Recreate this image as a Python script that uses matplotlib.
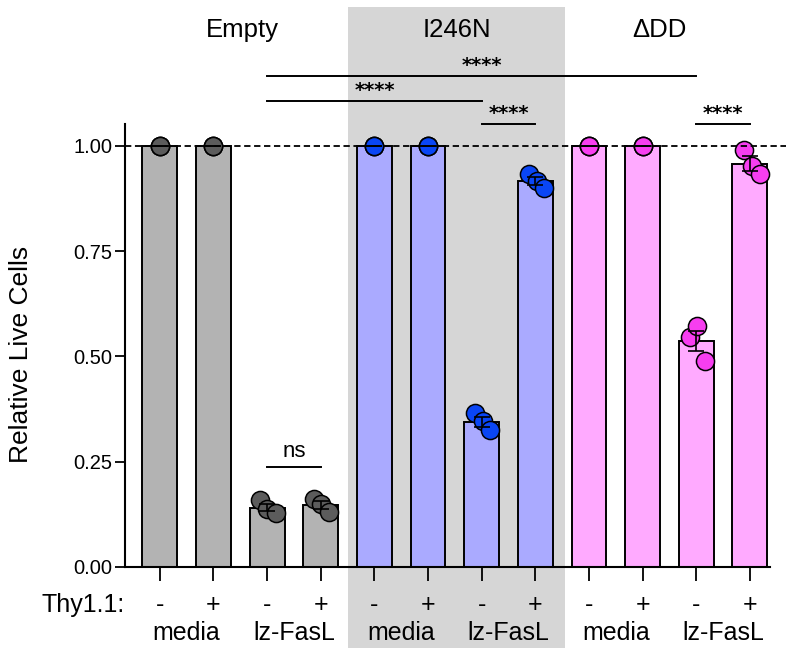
import matplotlib
matplotlib.use("Agg")
import matplotlib.pyplot as plt
import matplotlib.patches as mpatches
import matplotlib.transforms as mtransforms
import numpy as np

plt.rcParams['font.family'] = ['Liberation Sans', 'DejaVu Sans']

# replicate values (relative live cells) for each of the 12 bars
empty_reps = [[1.0, 1.0, 1.0], [1.0, 1.0, 1.0],
              [0.158, 0.137, 0.128], [0.162, 0.150, 0.130]]
i246n_reps = [[1.0, 1.0, 1.0], [1.0, 1.0, 1.0],
              [0.365, 0.346, 0.324], [0.932, 0.917, 0.899]]
ddd_reps = [[1.0, 1.0, 1.0], [1.0, 1.0, 1.0],
            [0.547, 0.573, 0.490], [0.990, 0.951, 0.932]]

groups = ['Empty', 'I246N', '\u0394DD']
thy_labels = ['-', '+'] * 6
treatments = ['media', 'lz-FasL'] * 3

bar_colors = ['#b3b3b3', '#aaaaff', '#ffaaff']
dot_colors = ['#5c5c5c', '#0a46f5', '#f73ef0']

# horizontal spread of the replicate dots inside each bar
jitter = [[0, 0, 0], [0, 0, 0], [-0.13, 0.0, 0.16], [-0.13, 0.0, 0.15],
          [0, 0, 0], [0, 0, 0], [-0.12, 0.02, 0.16], [-0.11, 0.03, 0.17],
          [0, 0, 0], [0, 0, 0], [-0.12, 0.02, 0.17], [-0.11, 0.03, 0.18]]

# significance comparisons: (bar a, bar b, height, label)
comparisons = [(2, 10, 1.166, '****'),
               (2, 6, 1.107, '****'),
               (6, 7, 1.052, '****'),
               (10, 11, 1.052, '****'),
               (2, 3, 0.238, 'ns')]

reps = empty_reps + i246n_reps + ddd_reps
x = np.arange(len(reps))

fig = plt.figure(figsize=(7.86, 6.48), dpi=100)
ax = fig.add_axes([0.159, 0.125, 0.821, 0.684])
ax.set_facecolor('none')

# grey band behind the I246N group, running the full height of the figure
band = mpatches.Rectangle((3.5, 0), 4.05, 0.989, facecolor='#d6d6d6', edgecolor='none',
                          transform=mtransforms.blended_transform_factory(ax.transData, fig.transFigure),
                          clip_on=False, zorder=0)
ax.add_patch(band)

for i, vals in enumerate(reps):
    g = i // 4
    vals = np.array(vals)
    mean = vals.mean()
    sem = vals.std(ddof=1) / np.sqrt(len(vals))
    ax.bar(x[i], mean, width=0.65, color=bar_colors[g], edgecolor='black',
           linewidth=1.4, zorder=2)
    ax.scatter(x[i] + np.array(jitter[i]), vals, s=170, color=dot_colors[g],
               edgecolor='black', linewidth=1.1, zorder=3, clip_on=False)
    ax.errorbar(x[i], mean, yerr=sem, color='black', capsize=6, elinewidth=1.2,
                capthick=1.2, zorder=4)

ax.plot([-0.65, 11.75], [1, 1], color='black', linestyle='--', dashes=(3.5, 2),
        linewidth=1.3, clip_on=False, zorder=5)

for a, b, h, lab in comparisons:
    ax.plot([a, b], [h, h], color='black', linewidth=1.4, clip_on=False, zorder=5)
    if lab == 'ns':
        ax.text((a + b) / 2, h + 0.012, lab, ha='center', va='bottom', fontsize=16)
    else:
        ax.text((a + b) / 2, h + 0.002, lab, ha='center', va='bottom', fontsize=14,
                fontweight='bold', family='DejaVu Sans')

ax.set_xlim(-0.65, 11.38)
ax.set_ylim(0, 1.052)
ax.set_yticks([0, 0.25, 0.5, 0.75, 1.0])
ax.set_yticklabels(['0.00', '0.25', '0.50', '0.75', '1.00'])
ax.set_xticks(x)
ax.set_xticklabels([])
ax.tick_params(axis='y', length=7, width=1.3, labelsize=14.5, pad=2)
ax.tick_params(axis='x', length=10, width=1.3)
for side in ['top', 'right']:
    ax.spines[side].set_visible(False)
for side in ['left', 'bottom']:
    ax.spines[side].set_linewidth(1.5)

ax.set_ylabel('Relative Live Cells', fontsize=19)
ax.yaxis.set_label_coords(-0.143, 0.479)

tr = ax.get_xaxis_transform()
for i, lab in enumerate(thy_labels):
    ax.text(x[i], -0.086, lab, transform=tr, ha='center', va='center', fontsize=18)
for k, lab in enumerate(treatments):
    ax.text(2 * k + 0.5, -0.15, lab, transform=tr, ha='center', va='center', fontsize=18)
ax.text(-0.65, -0.086, 'Thy1.1:', transform=tr, ha='right', va='center', fontsize=18)

for xc, lab in zip([1.53, 5.54, 9.31], groups):
    ax.text(xc, 1.212, lab, transform=tr, ha='center', va='center', fontsize=18.5)

fig.savefig('out.png', dpi=100)
